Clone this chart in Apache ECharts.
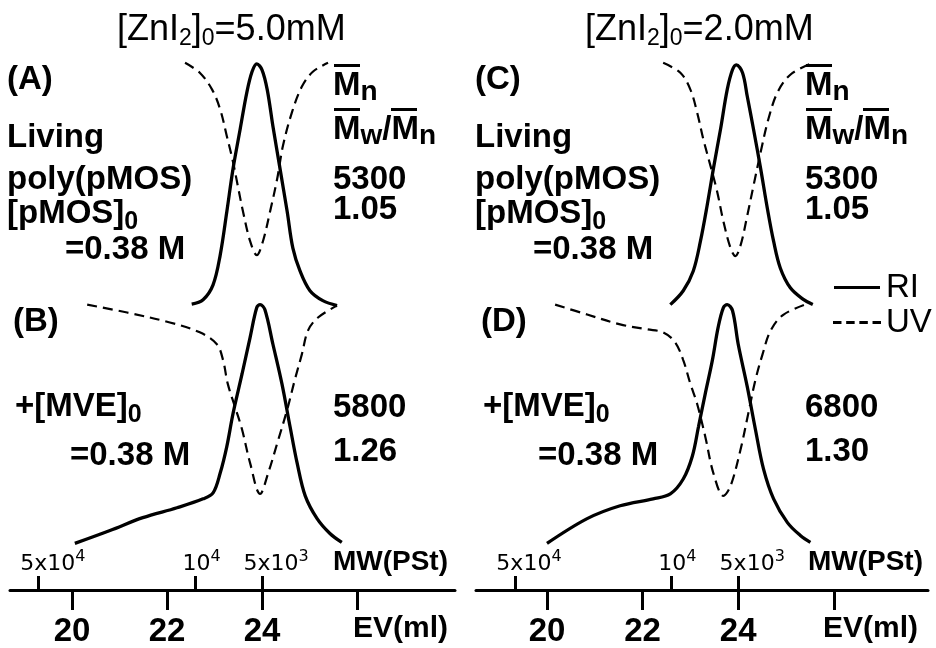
<!DOCTYPE html>
<html><head><meta charset="utf-8">
<script src="https://cdn.jsdelivr.net/npm/echarts@6/dist/echarts.min.js"></script>
<style>html,body{margin:0;padding:0;background:#fff}#c{width:936px;height:648px}</style>
</head><body><div id="c"></div>
<script>
// ---------- data (EV in ml, signal in relative display units) ----------
const evTicks = [20, 22, 24, 26];
const evLabels = [20, 22, 24];
const mwTicksLeft = [19.3, 22.6, 24.0];
const mwTicksRight = [19.33, 22.6, 24.0];
const mwLabels = ['5x10^4', '10^4', '5x10^3'];

// (A) living poly(pMOS), [ZnI2]0 = 5.0 mM
const riA = [[22.52,57.7],[22.76,58.6],[22.97,61.6],[23.12,67.6],[23.26,76.4],[23.39,85.0],[23.54,93.0],[23.68,100.4],[23.79,104.6],[23.89,106.2],[24.00,105.0],[24.11,101.0],[24.23,93.6],[24.38,85.0],[24.53,76.4],[24.65,69.0],[24.80,64.4],[25.01,60.4],[25.28,58.4],[25.58,57.4]];
const uvA = [[22.38,106.4],[22.69,104.4],[22.95,101.0],[23.12,97.0],[23.26,91.6],[23.39,86.4],[23.49,81.6],[23.60,76.4],[23.75,70.4],[23.89,67.6],[24.02,70.4],[24.17,76.4],[24.32,83.0],[24.44,89.6],[24.63,96.4],[24.84,101.6],[25.07,104.6],[25.39,106.4]];
// (B) + [MVE]0
const riB = [[20.06,9.4],[20.80,12.0],[21.49,14.6],[22.21,16.6],[22.76,18.4],[22.97,19.6],[23.12,23.6],[23.26,29.0],[23.39,35.6],[23.58,43.6],[23.75,51.0],[23.89,57.0],[23.96,57.6],[24.06,56.6],[24.23,49.6],[24.42,41.6],[24.59,33.0],[24.74,25.6],[24.91,19.0],[25.16,14.4],[25.43,11.4],[25.68,9.6]];
const uvB = [[20.32,57.6],[21.16,56.0],[22.06,54.0],[22.69,52.0],[23.05,49.6],[23.18,46.4],[23.28,41.6],[23.43,37.0],[23.58,32.4],[23.75,25.6],[23.96,19.4],[24.13,23.6],[24.32,29.6],[24.53,36.4],[24.69,42.4],[24.84,47.6],[24.97,52.4],[25.18,55.0],[25.58,57.4]];
// (C) living poly(pMOS), [ZnI2]0 = 2.0 mM
const riC = [[22.58,57.6],[22.85,60.4],[23.06,64.4],[23.21,70.4],[23.35,77.6],[23.48,85.0],[23.63,93.0],[23.77,101.0],[23.88,105.0],[23.96,106.0],[24.09,104.4],[24.19,99.6],[24.32,93.0],[24.47,85.0],[24.61,77.0],[24.74,70.4],[24.88,65.0],[25.09,61.0],[25.37,58.6],[25.56,57.6]];
const uvC = [[22.43,106.4],[22.79,104.4],[23.00,101.0],[23.14,96.4],[23.27,91.0],[23.42,85.6],[23.56,80.4],[23.69,74.4],[23.84,69.0],[23.94,67.4],[24.05,69.6],[24.19,75.6],[24.32,81.6],[24.47,88.4],[24.63,95.0],[24.82,100.4],[25.09,104.0],[25.51,106.2]];
// (D) + [MVE]0
const riD = [[20.00,9.4],[20.84,14.4],[21.53,17.0],[22.22,18.4],[22.58,19.4],[22.85,22.4],[23.04,27.0],[23.17,33.0],[23.31,39.6],[23.46,46.4],[23.58,53.0],[23.69,57.0],[23.77,57.6],[23.88,56.4],[24.00,49.6],[24.19,41.0],[24.36,32.4],[24.53,24.4],[24.74,18.4],[25.03,13.6],[25.30,11.0],[25.51,9.6]];
const uvD = [[20.17,57.6],[20.84,55.6],[21.53,53.6],[22.10,52.6],[22.43,52.0],[22.68,50.0],[22.85,46.4],[23.00,41.6],[23.14,37.6],[23.31,31.0],[23.48,23.6],[23.69,19.0],[23.84,21.0],[24.05,28.4],[24.21,35.6],[24.36,42.4],[24.51,47.6],[24.68,52.4],[24.95,55.6],[25.51,58.0]];

const MnLeft = ['5300', '1.05'], MnLeftB = ['5800', '1.26'];
const MnRight = ['5300', '1.05'], MnRightB = ['6800', '1.30'];

// ---------- chart ----------
const F = '"Liberation Sans", Arial, sans-serif';
const FW = '"DejaVu Sans", "Liberation Sans", sans-serif';
const chart = echarts.init(document.getElementById('c'), null, {renderer: 'canvas'});

function mwFormatter(ticks) {
  return function (v) {
    let best = 0;
    for (let i = 0; i < ticks.length; i++) if (Math.abs(ticks[i] - v) < Math.abs(ticks[best] - v)) best = i;
    const parts = mwLabels[best].split('^');
    const st = parts[0].length > 2 ? 'a' : 'c';
    return '{' + st + '|' + parts[0] + '}{u|' + parts[1] + '}';
  };
}
const mwRich = {
  a: {fontSize: 22, fontFamily: FW, verticalAlign: 'middle', padding: [0, 0, 0, 28]},
  c: {fontSize: 22, fontFamily: FW, verticalAlign: 'middle', padding: [0, 0, 0, 12]},
  u: {fontSize: 16, fontFamily: FW, verticalAlign: 'middle', padding: [0, 0, 14, 0]}
};

function evAxis(grid, min, max, nameGap) {
  return {
    type: 'value', gridIndex: grid, min: min, max: max, position: 'bottom',
    axisLine: {show: true, lineStyle: {color: '#000', width: 3}},
    axisTick: {show: true, customValues: evTicks, length: 20, lineStyle: {color: '#000', width: 3}},
    axisLabel: {customValues: evLabels, margin: 25, color: '#000', fontSize: 33, fontWeight: 'bold', fontFamily: F},
    splitLine: {show: false},
    name: 'EV(ml)', nameLocation: 'end', nameGap: nameGap,
    nameTextStyle: {color: '#000', fontSize: 30, fontWeight: 'bold', fontFamily: F, align: 'right', verticalAlign: 'top', padding: [24, 0, 0, 0]}
  };
}
function mwAxis(grid, min, max, ticks, nameGap) {
  return {
    type: 'value', gridIndex: grid, min: min, max: max, position: 'bottom',
    axisLine: {show: false},
    axisTick: {show: true, inside: true, customValues: ticks, length: 14, lineStyle: {color: '#000', width: 3}},
    axisLabel: {inside: true, customValues: ticks, margin: 11, color: '#000', formatter: mwFormatter(ticks), rich: mwRich},
    splitLine: {show: false},
    name: 'MW(PSt)', nameLocation: 'end', nameGap: nameGap,
    nameTextStyle: {color: '#000', fontSize: 28, fontWeight: 'bold', fontFamily: F, align: 'right', verticalAlign: 'bottom', padding: [0, 0, 14, 0]}
  };
}
function yAx(grid) {
  return {type: 'value', gridIndex: grid, min: 0, max: 110, show: false};
}
function line(name, data, xi, yi) {
  const dashed = name === 'UV';
  return {
    type: 'line', name: name, data: data, xAxisIndex: xi, yAxisIndex: yi,
    symbol: 'none', smooth: 0.35, silent: true,
    lineStyle: {color: '#000', width: dashed ? 2.2 : 3.3, type: dashed ? [10, 6] : 'solid'},
    itemStyle: {color: '#000'}
  };
}

// rich text styles for annotations
const R = {
  b: {fontSize: 33, fontWeight: 'bold', fontFamily: F, verticalAlign: 'middle', lineHeight: 36},
  s: {fontSize: 25, fontWeight: 'bold', fontFamily: F, verticalAlign: 'middle', padding: [16, 0, 0, 0]},
  n: {fontSize: 28, fontWeight: 'bold', fontFamily: F, verticalAlign: 'middle', padding: [12, 0, 0, 0]},
  t: {fontSize: 36, fontFamily: F, verticalAlign: 'middle', lineHeight: 40},
  ts: {fontSize: 23, fontFamily: F, verticalAlign: 'middle', padding: [17, 0, 0, 0]}
};
function T(x, y, text) {
  return {type: 'text', x: x, y: y, silent: true, style: {text: text, rich: R, fill: '#000', verticalAlign: 'middle', align: 'left'}};
}
function bar(x, y, w) {
  return {type: 'rect', silent: true, shape: {x: x, y: y, width: w, height: 3}, style: {fill: '#000'}};
}
function panelTexts(dx, dxM, title, labTop, labBot, valTop, valBot) {
  return [
    T(117 + dx, 30, '{t|[ZnI}{ts|2}{t|]}{ts|0}{t|=' + title + '}'),
    T(7 + dx, 80, '{b|' + labTop + '}'),
    T(7 + dx, 138, '{b|Living}'),
    T(7 + dx, 180, '{b|poly(pMOS)}'),
    T(7 + dx, 214, '{b|[pMOS]}{s|0}'),
    T(65 + dx, 250, '{b|=0.38 M}'),
    T(333 + dxM, 86, '{b|M}{n|n}'),
    bar(334 + dxM, 64, 26),
    T(333 + dxM, 130, '{b|M}{n|w}{b|/M}{n|n}'),
    bar(334 + dxM, 108, 26),
    bar(391 + dxM, 108, 26),
    T(333 + dxM, 180, '{b|' + valTop[0] + '}'),
    T(333 + dxM, 210, '{b|' + valTop[1] + '}'),
    T(13 + dx, 322, '{b|' + labBot + '}'),
    T(15 + dx, 407, '{b|+[MVE]}{s|0}'),
    T(70 + dx, 456, '{b|=0.38 M}'),
    T(333 + dxM, 408, '{b|' + valBot[0] + '}'),
    T(333 + dxM, 452, '{b|' + valBot[1] + '}')
  ];
}

const option = {
  animation: false,
  backgroundColor: '#fff',
  grid: [
    {left: 10, width: 445, top: 45, height: 550},
    {left: 476, width: 452, top: 45, height: 550}
  ],
  xAxis: [
    evAxis(0, 18.695, 28.063, -7),
    mwAxis(0, 18.695, 28.063, mwTicksLeft, -7),
    evAxis(1, 18.515, 27.97, -10),
    mwAxis(1, 18.515, 27.97, mwTicksRight, -5)
  ],
  yAxis: [yAx(0), yAx(1)],
  legend: {
    data: [
      {name: 'RI', icon: 'path://M0,0h46v3h-46z'},
      {name: 'UV', icon: 'path://M0,0h9v3h-9z M14,0h9v3h-9z M28,0h9v3h-9z M42,0h9v3h-9z'}
    ],
    orient: 'vertical', left: 833, top: 270, padding: 0,
    itemWidth: 48, itemHeight: 3, itemGap: 0, selectedMode: false,
    textStyle: {color: '#000', fontSize: 33, fontFamily: F, lineHeight: 35}
  },
  series: [
    line('RI', riA, 0, 0), line('UV', uvA, 0, 0), line('RI', riB, 0, 0), line('UV', uvB, 0, 0),
    line('RI', riC, 2, 1), line('UV', uvC, 2, 1), line('RI', riD, 2, 1), line('UV', uvD, 2, 1)
  ],
  graphic: [].concat(
    panelTexts(0, 0, '5.0mM', '(A)', '(B)', MnLeft, MnLeftB),
    panelTexts(468, 472, '2.0mM', '(C)', '(D)', MnRight, MnRightB)
  )
};
chart.setOption(option);
</script>
</body></html>
